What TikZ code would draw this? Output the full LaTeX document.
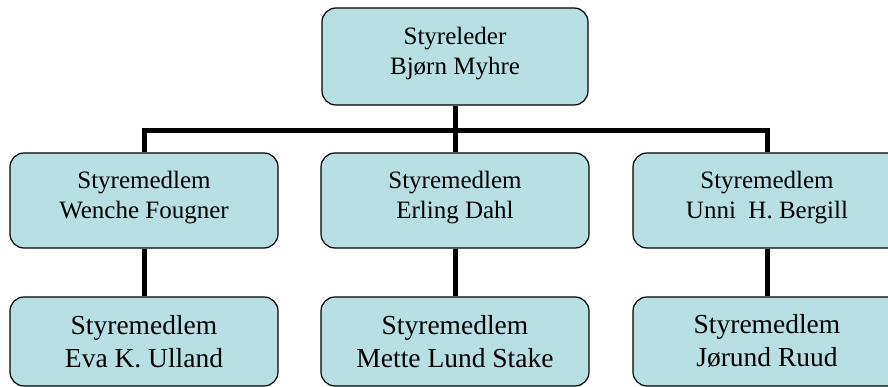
\documentclass[tikz,border=0pt]{standalone}
\usepackage{fontspec}
\setmainfont{Liberation Serif}
\usepackage{tikz}
\usetikzlibrary{positioning}
\definecolor{boxfill}{RGB}{184,223,228}
\tikzset{
        member/.style={draw, line width=1.2pt, fill=boxfill, rounded corners=14pt,
                align=center, minimum width=268pt, minimum height=95pt,
                text depth=11pt, font=\fontsize{25}{29.5}\selectfont},
        lower/.style={member, minimum height=89pt, text depth=,
                font=\fontsize{27.5}{33}\selectfont},
        link/.style={line width=5pt}
}

\begin{document}
\begin{tikzpicture}[x=1pt, y=-1pt, on grid]
        \useasboundingbox (0,0) rectangle (888,387);
        \clip (0,0) rectangle (888,387);
        \node (chair) [member, minimum width=266pt, minimum height=97pt] at (455,56.5) {Styreleder\\Bjørn Myhre};
        \node (erling) [member, below=144pt of chair] {Styremedlem\\Erling Dahl};
        \node (wenche) [member, left=311pt of erling] {Styremedlem\\Wenche Fougner};
        \node (unni) [member, right=312pt of erling] {Styremedlem\\Unni~~H. Bergill};
        \node (eva) [lower, below=141pt of wenche] {Styremedlem\\Eva K. Ulland};
        \node (mette) [lower, below=141pt of erling] {Styremedlem\\Mette Lund Stake};
        \node (jorund) [lower, below=141pt of unni] {Styremedlem\\Jørund Ruud};

        \draw [link] (chair.south) -- ++(0,24.5) coordinate (fork);
        \draw [link] (wenche.north) |- (fork) -| (unni.north);
        \draw [link] (fork) -- (erling.north);
        \draw [link] (wenche) -- (eva);
        \draw [link] (erling) -- (mette);
        \draw [link] (unni) -- (jorund);
\end{tikzpicture}
\end{document}
